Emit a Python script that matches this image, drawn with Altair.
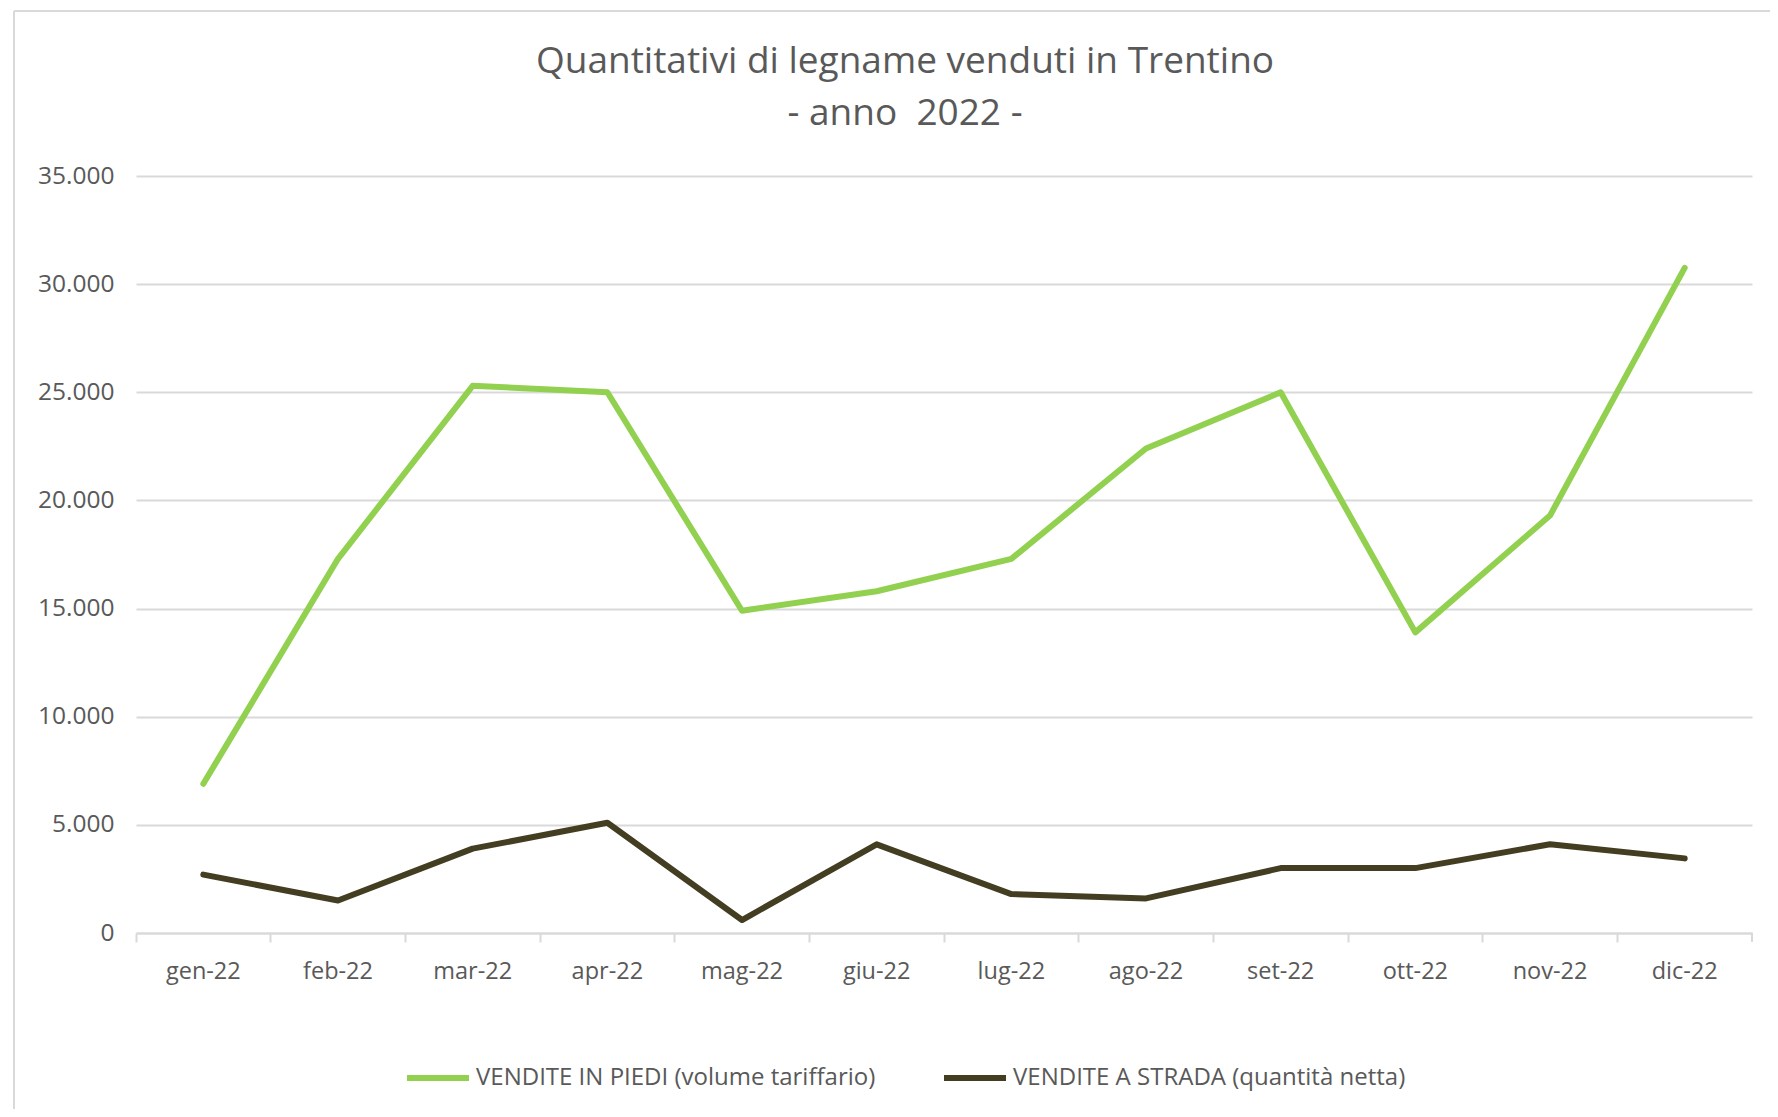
import altair as alt
import pandas as pd

months = ["gen-22", "feb-22", "mar-22", "apr-22", "mag-22", "giu-22",
          "lug-22", "ago-22", "set-22", "ott-22", "nov-22", "dic-22"]
in_piedi = [6900, 17300, 25300, 25000, 14900, 15800, 17300, 22400, 25000, 13900, 19300, 30750]
a_strada = [2700, 1500, 3900, 5100, 600, 4100, 1800, 1600, 3000, 3000, 4100, 3450]
series_names = ["VENDITE IN PIEDI (volume tariffario)", "VENDITE A STRADA (quantità netta)"]
series_colors = ["#92D050", "#433D22"]
title_lines = ["Quantitativi di legname venduti in Trentino", "- anno\u00a0 2022 -"]

rows = []
for m, v in zip(months, in_piedi):
    rows.append({"mese": m, "serie": series_names[0], "valore": v})
for m, v in zip(months, a_strada):
    rows.append({"mese": m, "serie": series_names[1], "valore": v})
df = pd.DataFrame(rows)

W, H = 1616, 757
FONT = "Open Sans"
GRAY = "#595959"
LIGHT = "#D9D9D9"

lines = alt.Chart(df).mark_line(strokeWidth=6, strokeCap="round", strokeJoin="round").encode(
    x=alt.X("mese:N", sort=months, bandPosition=0.5,
            scale=alt.Scale(type="band", paddingInner=0, paddingOuter=0),
            axis=alt.Axis(title=None, labelAngle=0, bandPosition=0,
                          grid=False, domainColor=LIGHT, domainWidth=2,
                          tickColor=LIGHT, tickWidth=2, tickSize=9,
                          labelPadding=17, labelFont=FONT, labelFontSize=23.5,
                          labelColor=GRAY)),
    y=alt.Y("valore:Q", scale=alt.Scale(domain=[0, 35000], nice=False),
            axis=alt.Axis(title=None, values=list(range(0, 35001, 5000)),
                          labelExpr="replace(format(datum.value, ','), ',', '.')",
                          domain=False, ticks=False, gridColor=LIGHT, gridWidth=2,
                          labelPadding=22, labelFont=FONT, labelFontSize=24.5,
                          labelColor=GRAY)),
    color=alt.Color("serie:N", sort=series_names,
                    scale=alt.Scale(domain=series_names, range=series_colors),
                    legend=alt.Legend(title=None, orient="none", direction="horizontal",
                                      legendX=268, legendY=868,
                                      symbolType="stroke", symbolSize=3844,
                                      symbolStrokeWidth=6, labelOffset=4,
                                      columnPadding=56, labelLimit=0,
                                      labelFont=FONT, labelFontSize=24,
                                      labelColor=GRAY)),
)

one = pd.DataFrame({"a": [0]})
end_tick = alt.Chart(one).mark_rule(color=LIGHT, strokeWidth=2).encode(
    x=alt.value(W), y=alt.value(H), y2=alt.value(H + 9))

frame_left = alt.Chart(one).mark_rule(color=LIGHT, strokeWidth=2).encode(
    x=alt.value(-122), y=alt.value(-165), y2=alt.value(960))
frame_top = alt.Chart(one).mark_rule(color=LIGHT, strokeWidth=2).encode(
    x=alt.value(-122), x2=alt.value(1660), y=alt.value(-165))

title1 = alt.Chart(pd.DataFrame({"t": [title_lines[0]]})).mark_text(
    font=FONT, fontSize=37, color=GRAY, align="center", baseline="middle").encode(
    text="t:N", x=alt.value(769), y=alt.value(-114))
title2 = alt.Chart(pd.DataFrame({"t": [title_lines[1]]})).mark_text(
    font=FONT, fontSize=37, color=GRAY, align="center", baseline="middle").encode(
    text="t:N", x=alt.value(769), y=alt.value(-62))

chart = alt.layer(frame_left, frame_top, title1, title2, lines, end_tick).properties(
    width=W, height=H,
    padding={"left": 128, "top": 168, "right": 18, "bottom": 176},
    autosize=alt.AutoSizeParams(type="none"),
).configure_view(stroke=None)

chart.save("out.html", embed_options={"renderer": "svg", "actions": False})
